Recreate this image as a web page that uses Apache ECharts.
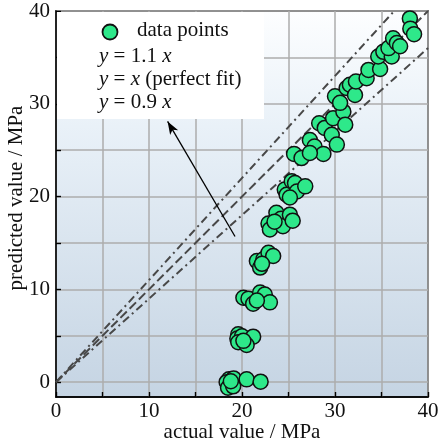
<!DOCTYPE html>
<html>
<head>
<meta charset="utf-8">
<script src="https://cdn.jsdelivr.net/npm/echarts@6/dist/echarts.min.js"></script>
<style>
  html, body { margin: 0; padding: 0; background: #fff; }
  #chart { width: 440px; height: 446px; }
</style>
</head>
<body>
<div id="chart"></div>
<script>
// measured (actual) vs model (predicted) strength, MPa
const actualValues = [
  18.6, 19.1, 18.35, 18.9, 18.5, 19.05, 20.5, 22.0, 18.8,
  19.6, 19.5, 20.0, 21.2, 19.6, 20.5, 20.15,
  20.15, 20.7, 21.2, 21.95, 22.45, 23.0, 21.6,
  21.6, 22.3, 22.85, 23.35, 21.95, 22.15,
  22.85, 23.0, 23.7, 24.2, 24.4, 25.15, 25.45, 23.5,
  24.6, 24.8, 25.35, 25.7, 25.9, 26.8, 25.15,
  25.6, 26.4, 27.3, 27.8, 28.75, 27.3,
  28.3, 28.9, 29.65, 30.2, 29.8, 30.9, 31.1,
  30.0, 30.55, 31.25, 31.6, 32.15, 32.25,
  33.4, 33.6, 34.85, 34.65, 35.2, 36.1, 35.75, 36.25, 36.65, 37.0,
  38.05, 38.1, 38.5
]
const predictedValues = [
  0.3, 0.4, 0.0, -0.2, -0.6, -0.45, 0.3, 0.05, 0.1,
  5.15, 4.7, 4.95, 4.9, 4.3, 4.0, 4.45,
  9.1, 9.0, 8.45, 9.65, 9.45, 8.6, 8.8,
  13.05, 13.25, 13.95, 13.6, 12.35, 12.75,
  17.1, 16.45, 18.25, 17.6, 16.8, 18.05, 17.4, 17.3,
  20.75, 20.2, 21.65, 21.45, 20.55, 21.1, 19.9,
  24.6, 24.15, 26.1, 25.4, 24.6, 24.7,
  27.9, 27.4, 26.65, 25.6, 28.45, 29.15, 27.75,
  30.8, 30.1, 31.7, 32.05, 30.95, 32.4,
  32.75, 33.65, 33.75, 35.1, 35.6, 35.1, 36.0, 37.05, 36.55, 36.2,
  39.2, 38.1, 37.5
]
// reference lines y = k * x
const slopes = [1.1, 1.0, 0.9]
const lineNames = ['y = 1.1 x', 'y = x (perfect fit)', 'y = 0.9 x']
const xTickLabels = [0, 10, 20, 30, 40]
const yTickLabels = [0, 10, 20, 30, 40]
const yTicks = [0, 5, 10, 15, 20, 25, 30, 35, 40]
// arrow from the legend text down to the upper line
const arrowTail = [19.25, 15.7]
const arrowHead = [12.0, 28.1]

const serif = '"Liberation Serif", "DejaVu Serif", serif'
const fs = 21
const chart = echarts.init(document.getElementById('chart'))

const points = actualValues.map((x, i) => [x, predictedValues[i]])
const dashTypes = [[8, 4, 2, 4], [9, 4], [8, 4, 2, 4]]
const lineSeries = slopes.map((k, i) => {
  // end of the line where it leaves the 40 x 40 box
  const xEnd = Math.min(40, 40 / k)
  const s = {
    type: 'line',
    name: lineNames[i],
    data: [[0, 0], [xEnd, k * xEnd]],
    symbol: 'none',
    silent: true,
    lineStyle: { color: '#484848', width: 2, type: dashTypes[i] },
    z: 3
  }
  if (i === 0) {
    s.markLine = {
      silent: true,
      symbol: ['none', 'arrow'],
      symbolSize: [7, 13],
      label: { show: false },
      lineStyle: { color: '#000', width: 1.3, type: 'solid' },
      data: [[{ coord: arrowTail }, { coord: arrowHead }]]
    }
  }
  return s
})

const italic = { fontStyle: 'italic', fontFamily: serif, fontSize: fs, fill: '#111' }
const option = {
  animation: false,
  grid: {
    left: 56,
    right: 12,
    top: 11,
    bottom: 49,
    outerBoundsMode: 'none',
    containLabel: false,
    show: true,
    borderColor: '#000',
    borderWidth: 1.5,
    backgroundColor: {
      type: 'linear', x: 0, y: 0, x2: 0, y2: 1,
      colorStops: [
        { offset: 0, color: '#fdfeff' },
        { offset: 0.3, color: '#e9f1f8' },
        { offset: 1, color: '#c5d4e3' }
      ]
    }
  },
  xAxis: {
    type: 'value',
    min: 0,
    max: 40,
    interval: 5,
    name: 'actual value / MPa',
    nameLocation: 'middle',
    nameGap: 25,
    nameMoveOverlap: false,
    nameTextStyle: { fontFamily: serif, fontSize: fs, color: '#111' },
    axisLine: { onZero: false, lineStyle: { color: '#000', width: 1.5 } },
    axisTick: { inside: true, length: 5, lineStyle: { color: '#000', width: 1.4 } },
    axisLabel: {
      margin: 4,
      fontFamily: serif,
      fontSize: fs,
      color: '#111',
      formatter: (v) => (xTickLabels.includes(v) ? String(v) : '')
    },
    splitLine: { show: true, lineStyle: { color: '#adadad', width: 1.5 } }
  },
  yAxis: {
    type: 'value',
    min: -1.6,
    max: 40,
    name: 'predicted value / MPa',
    nameLocation: 'middle',
    nameGap: 29,
    nameMoveOverlap: false,
    nameTextStyle: { fontFamily: serif, fontSize: fs, color: '#111', padding: [0, 0, 0, 12] },
    axisLine: { onZero: false, lineStyle: { color: '#000', width: 1.5 } },
    axisTick: {
      inside: true,
      length: 5,
      customValues: yTicks,
      lineStyle: { color: '#000', width: 1.4 }
    },
    axisLabel: {
      margin: 6,
      fontFamily: serif,
      fontSize: fs,
      color: '#111',
      customValues: yTickLabels
    },
    splitLine: { show: true, lineStyle: { color: '#adadad', width: 1.5 } }
  },
  graphic: [
    {
      type: 'rect',
      left: 57,
      top: 12,
      z: 1,
      shape: { width: 207, height: 107 },
      style: { fill: '#fff' }
    },
    {
      type: 'circle',
      z: 10,
      shape: { cx: 110, cy: 32, r: 7.5 },
      style: { fill: '#2ee88a', stroke: '#111', lineWidth: 1.8 }
    },
    {
      type: 'text', z: 10, left: 137, top: 20,
      style: { text: 'data points', fontFamily: serif, fontSize: fs, fill: '#111' }
    },
    {
      type: 'text', z: 10, left: 99, top: 46,
      style: { text: '{i|y} = 1.1 {i|x}', fontFamily: serif, fontSize: fs, fill: '#111', rich: { i: italic } }
    },
    {
      type: 'text', z: 10, left: 99, top: 69,
      style: { text: '{i|y} = {i|x} (perfect fit)', fontFamily: serif, fontSize: fs, fill: '#111', rich: { i: italic } }
    },
    {
      type: 'text', z: 10, left: 99, top: 92,
      style: { text: '{i|y} = 0.9 {i|x}', fontFamily: serif, fontSize: fs, fill: '#111', rich: { i: italic } }
    }
  ],
  series: [
    ...lineSeries,
    {
      type: 'scatter',
      name: 'data points',
      data: points,
      symbolSize: 15,
      z: 5,
      itemStyle: { color: '#2ee88a', borderColor: '#111', borderWidth: 1.5, opacity: 1 }
    }
  ]
}
chart.setOption(option)
</script>
</body>
</html>
